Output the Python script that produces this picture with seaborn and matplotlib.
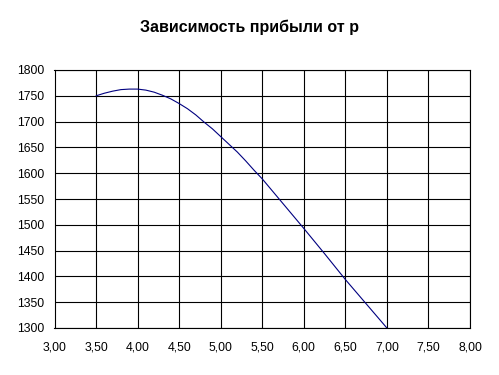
import matplotlib
matplotlib.use("Agg")
import matplotlib.pyplot as plt
import seaborn as sns
import pandas as pd

p_values = [3.5, 3.6, 3.7, 3.8, 3.9, 4.0, 4.1, 4.2, 4.3, 4.4, 4.5, 4.6, 4.7, 4.8, 4.9,
            5.0, 5.1, 5.2, 5.3, 5.4, 5.5, 5.75, 6.0, 6.25, 6.5, 6.75, 7.0]
profit = [1750, 1755, 1759, 1762, 1763, 1763, 1761, 1757, 1751, 1744, 1735, 1725, 1713, 1699, 1686,
          1671, 1656, 1641, 1624, 1606, 1589, 1541, 1493, 1444, 1394, 1347, 1300]
x_ticks = [3.0, 3.5, 4.0, 4.5, 5.0, 5.5, 6.0, 6.5, 7.0, 7.5, 8.0]
y_ticks = [1300, 1350, 1400, 1450, 1500, 1550, 1600, 1650, 1700, 1750, 1800]
title = "Зависимость прибыли от p"

sns.set_style("white")
plt.rcParams['font.family'] = ['Liberation Sans', 'DejaVu Sans']
plt.rcParams['text.color'] = 'black'
plt.rcParams['xtick.color'] = 'black'
plt.rcParams['ytick.color'] = 'black'

df = pd.DataFrame({"p": p_values, "profit": profit})

fig = plt.figure(figsize=(4.99, 3.75), dpi=100)
ax = fig.add_axes([54.5/499, 1-328/375, (470-54.5)/499, (328-70)/375])
sns.lineplot(data=df, x="p", y="profit", ax=ax, color="#000080", linewidth=0.8)

ax.set_xlim(3.0, 8.0)
ax.set_ylim(1300, 1800)
ax.set_xticks(x_ticks)
ax.set_yticks(y_ticks)
ax.set_xticklabels([f"{v:.2f}".replace(".", ",") for v in x_ticks], fontsize=8.8, color="black")
ax.set_yticklabels([str(v) for v in y_ticks], fontsize=8.8, color="black")
ax.grid(True, color="black", linewidth=0.8)
ax.set_axisbelow(True)
for s in ax.spines.values():
    s.set_color("black")
    s.set_linewidth(0.8)
ax.tick_params(axis="both", direction="out", length=4, width=0.8, color="black")
ax.tick_params(axis="x", pad=6)
ax.tick_params(axis="y", pad=3.6)
ax.set_xlabel("")
ax.set_ylabel("")
fig.text(0.5, 1-27/375, title, ha="center", va="center", fontsize=11.5,
         fontweight="bold", color="black")
fig.savefig("out.png", dpi=100)
